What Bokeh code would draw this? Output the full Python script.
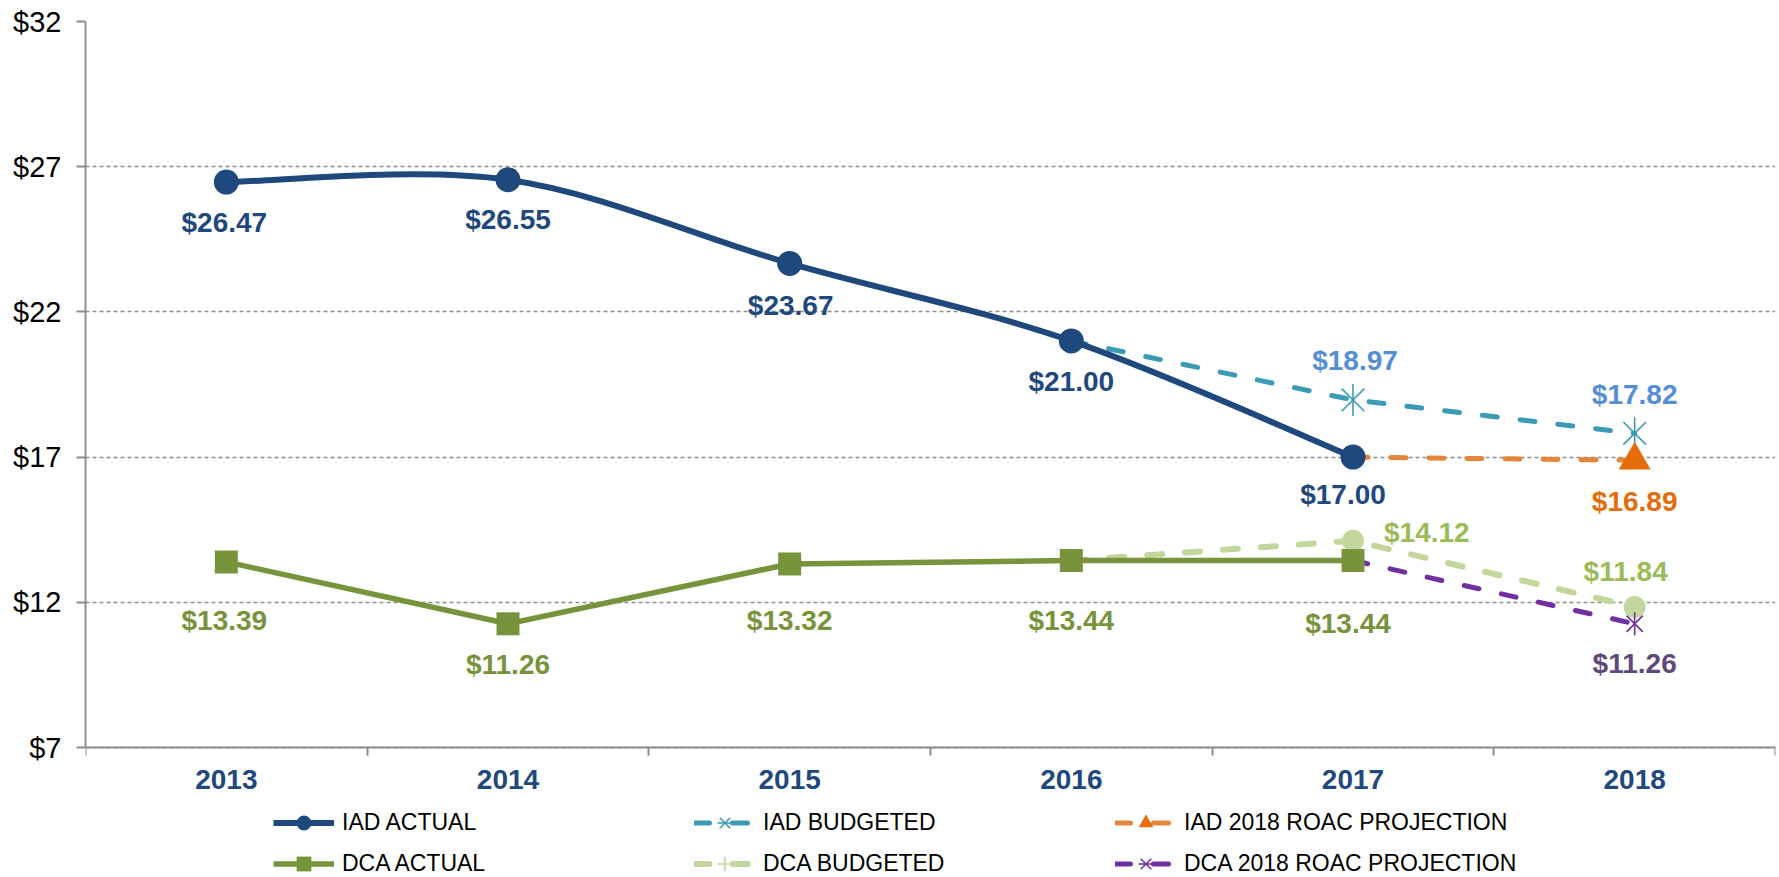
import numpy as np
from bokeh.plotting import figure
from bokeh.models import FixedTicker, Legend, LegendItem, Range1d, NumeralTickFormatter
from bokeh.core.properties import value
from bokeh.embed import file_html
from bokeh.resources import INLINE

# ---------------- data ----------------
years = ["2013", "2014", "2015", "2016", "2017", "2018"]
y_ticks = [7, 12, 17, 22, 27, 32]

iad_actual_years = ["2013", "2014", "2015", "2016", "2017"]
iad_actual = [26.47, 26.55, 23.67, 21.00, 17.00]

dca_actual_years = ["2013", "2014", "2015", "2016", "2017"]
dca_actual = [13.39, 11.26, 13.32, 13.44, 13.44]

iad_budget_years = ["2016", "2017", "2018"]
iad_budget = [21.00, 18.97, 17.82]

iad_roac_years = ["2017", "2018"]
iad_roac = [17.00, 16.89]

dca_budget_years = ["2016", "2017", "2018"]
dca_budget = [13.44, 14.12, 11.84]

dca_roac_years = ["2017", "2018"]
dca_roac = [13.44, 11.26]

# ---------------- styling / layout ----------------
FONT = "Liberation Sans"
C_IAD = "#1F497D"
C_DCA = "#77933C"
C_IADB = "#3C9BB4"
C_IADB_LBL = "#558ED5"
C_ROAC_LINE = "#E4853A"
C_ROAC = "#E46C0A"
C_DCAB = "#C3D69B"
C_DCAB_LBL = "#9BBB59"
C_PURP = "#7030A0"
C_PURP_LBL = "#5F497A"
GRID = "#8E8E8E"

W, H = 1779, 877
TOP_PX, AXIS_PX = 21, 747          # pixel rows of the top tick and of the x axis
Y_LO, Y_HI = y_ticks[0], y_ticks[-1]
px_per_unit = (AXIS_PX - TOP_PX) / (Y_HI - Y_LO)
y_start = Y_LO - (H - AXIS_PX) / px_per_unit   # frame extends to bottom so legend fits inside

pos = {y: i + 1 for i, y in enumerate(years)}
def xs_of(ys):
    return [pos[y] for y in ys]

NAN = np.array([np.nan])   # for legend-only glyphs

p = figure(width=W, height=H, output_backend="svg", toolbar_location=None,
           x_range=Range1d(0.5, len(years) + 0.5), y_range=Range1d(y_start, Y_HI),
           min_border_left=85, min_border_right=4, min_border_top=TOP_PX, min_border_bottom=0)
p.outline_line_color = None
p.background_fill_color = "white"

# axes
p.xaxis.fixed_location = Y_LO
p.xaxis.ticker = FixedTicker(ticks=[pos[y] for y in years],
                             minor_ticks=[v - 0.5 for v in range(1, len(years) + 2)])
p.xaxis.major_label_overrides = {pos[y]: y for y in years}
p.xaxis.major_tick_line_color = None
p.xaxis.major_tick_out = 0
p.xaxis.major_tick_in = 0
p.xaxis.minor_tick_out = 8
p.xaxis.minor_tick_in = 0
p.xaxis.minor_tick_line_color = GRID
p.xaxis.minor_tick_line_width = 2
p.xaxis.axis_line_color = GRID
p.xaxis.axis_line_width = 2
p.xaxis.major_label_standoff = 14
p.xaxis.major_label_text_font = FONT
p.xaxis.major_label_text_font_size = "28px"
p.xaxis.major_label_text_font_style = "bold"
p.xaxis.major_label_text_color = C_IAD

p.yaxis.bounds = (Y_LO, Y_HI)
p.yaxis.ticker = FixedTicker(ticks=y_ticks, minor_ticks=[])
p.yaxis.formatter = NumeralTickFormatter(format="$0")
p.yaxis.major_tick_out = 9
p.yaxis.major_tick_in = 0
p.yaxis.major_tick_line_color = GRID
p.yaxis.major_tick_line_width = 2
p.yaxis.axis_line_color = GRID
p.yaxis.axis_line_width = 2
p.yaxis.major_label_standoff = 15
p.yaxis.major_label_text_font = FONT
p.yaxis.major_label_text_font_size = "29px"
p.yaxis.major_label_text_color = "black"

p.xgrid.grid_line_color = None
p.ygrid.grid_line_color = GRID
p.ygrid.grid_line_dash = "4 3"
p.ygrid.grid_line_width = 1.4

DASH = "15 23"

def star(xv, yv, color, size, width=1.6):
    """Excel-style star marker: an X plus a vertical stroke."""
    a = p.scatter(xv, yv, marker="x", size=size, line_color=color, line_width=width)
    b = p.scatter(xv, yv, marker="dash", size=size, angle=np.pi / 2,
                  line_color=color, line_width=width)
    return [a, b]

# ---------------- dashed projection lines ----------------
r_iadb_line = p.line(xs_of(iad_budget_years), iad_budget, line_color=C_IADB, line_width=5,
                     line_dash=DASH, line_cap="round")
r_iadb_mk = star(xs_of(iad_budget_years[1:]), iad_budget[1:], C_IADB, 32)

r_dcab_line = p.line(xs_of(dca_budget_years), dca_budget, line_color=C_DCAB, line_width=6,
                     line_dash=DASH, line_cap="round")
r_dcab_mk = p.scatter(xs_of(dca_budget_years[1:]), dca_budget[1:], marker="circle", size=22,
                      fill_color=C_DCAB, line_color=None)
r_dcab_leg = p.scatter(NAN, NAN, marker="cross", size=22, line_color=C_DCAB, line_width=1.6)

r_roac_line = p.line(xs_of(iad_roac_years), iad_roac, line_color=C_ROAC_LINE, line_width=5,
                     line_dash=DASH, line_cap="round")
r_roac_mk = p.scatter(xs_of(iad_roac_years[1:]), iad_roac[1:], marker="triangle", size=32,
                      fill_color=C_ROAC, line_color=None)

r_purp_line = p.line(xs_of(dca_roac_years), dca_roac, line_color=C_PURP, line_width=5,
                     line_dash=DASH, line_cap="round")
r_purp_mk = star(xs_of(dca_roac_years[1:]), dca_roac[1:], C_PURP, 23)

# ---------------- actual lines ----------------
# IAD actual: smoothed (Excel-style) curve via bezier segments built from the data points
ix = np.array(xs_of(iad_actual_years), dtype=float)
iy = np.array(iad_actual, dtype=float)
xpad = np.concatenate([[ix[0]], ix, [ix[-1]]])
ypad = np.concatenate([[iy[0]], iy, [iy[-1]]])
n = len(ix)
seg = np.arange(n - 1)
cx0 = ix[seg] + (ix[seg + 1] - xpad[seg]) / 6.0
cy0 = iy[seg] + (iy[seg + 1] - ypad[seg]) / 6.0
cx1 = ix[seg + 1] - (xpad[seg + 3] - ix[seg]) / 6.0
cy1 = iy[seg + 1] - (ypad[seg + 3] - iy[seg]) / 6.0
p.bezier(x0=ix[:-1], y0=iy[:-1], x1=ix[1:], y1=iy[1:], cx0=cx0, cy0=cy0, cx1=cx1, cy1=cy1,
         line_color=C_IAD, line_width=6, line_cap="round")
r_iad_leg = p.line(NAN, NAN, line_color=C_IAD, line_width=6)
r_iad_mk = p.scatter(ix, iy, marker="circle", size=25, fill_color=C_IAD, line_color=None)

r_dca_line = p.line(xs_of(dca_actual_years), dca_actual, line_color=C_DCA, line_width=5.5)
r_dca_mk = p.scatter(xs_of(dca_actual_years), dca_actual, marker="square", size=23,
                     fill_color=C_DCA, line_color=None)

# ---------------- data labels ----------------
def fmt(vals):
    return ["$%.2f" % v for v in vals]

def labels(xv, yv, color, dx, dy, align="center"):
    p.text(x=xv, y=yv, text=fmt(yv), x_offset=dx, y_offset=dy,
           text_font=value(FONT), text_font_size="28px", text_font_style="bold",
           text_color=color, text_align=align, text_baseline="middle")

labels(xs_of(iad_actual_years), iad_actual, C_IAD,
       [-2, 0, 1, 0, -10], [40, 40, 42, 41, 37])
labels(xs_of(dca_actual_years), dca_actual, C_DCA,
       [-2, 0, 0, 0, -5], [59, 41, 57, 60, 63])
labels(xs_of(iad_budget_years[1:]), iad_budget[1:], C_IADB_LBL, [2, 0], [-39, -39])
labels(xs_of(iad_roac_years[1:]), iad_roac[1:], C_ROAC, [0], [41])
labels(xs_of(dca_budget_years[1:2]), dca_budget[1:2], C_DCAB_LBL, [31], [-8], align="left")
labels(xs_of(dca_budget_years[2:]), dca_budget[2:], C_DCAB_LBL, [-9], [-35])
labels(xs_of(dca_roac_years[1:]), dca_roac[1:], C_PURP_LBL, [0], [40])

# ---------------- legend ----------------
items = [
    LegendItem(label="IAD ACTUAL", renderers=[r_iad_leg, r_iad_mk]),
    LegendItem(label="IAD BUDGETED", renderers=[r_iadb_line] + r_iadb_mk),
    LegendItem(label="IAD 2018 ROAC PROJECTION", renderers=[r_roac_line, r_roac_mk]),
    LegendItem(label="DCA ACTUAL", renderers=[r_dca_line, r_dca_mk]),
    LegendItem(label="DCA BUDGETED", renderers=[r_dcab_line, r_dcab_leg]),
    LegendItem(label="DCA 2018 ROAC PROJECTION", renderers=[r_purp_line] + r_purp_mk),
]
legend = Legend(items=items, orientation="horizontal", ncols=3,
                location=(188, -5), glyph_width=61, glyph_height=37,
                label_standoff=8, label_width=348, spacing=4, padding=0, margin=0,
                label_text_font=FONT, label_text_font_size="23px", label_text_color="black",
                border_line_color=None, background_fill_alpha=0)
p.add_layout(legend, "center")

open("out.html", "w").write(file_html(p, INLINE))
